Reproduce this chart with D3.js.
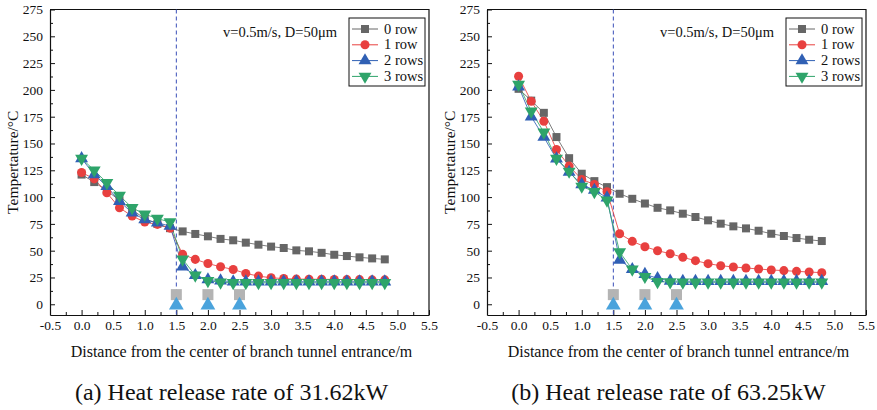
<!DOCTYPE html>
<html>
<head>
<meta charset="utf-8">
<script src="https://cdn.jsdelivr.net/npm/d3@7"></script>
<style>
  body { margin: 0; background: #fff; }
</style>
</head>
<body>
<div id="chart"></div>
<script>
// distance from branch tunnel entrance (m)
const distances = [0, 0.2, 0.4, 0.6, 0.8, 1.0, 1.2, 1.4, 1.6, 1.8, 2.0, 2.2, 2.4, 2.6, 2.8, 3.0, 3.2, 3.4, 3.6, 3.8, 4.0, 4.2, 4.4, 4.6, 4.8];
const seriesNames = ["0 row", "1 row", "2 rows", "3 rows"];

// (a) 31.62kW
const rows0A = [121, 114, 106, 97, 88, 80, 75, 71, 68, 65.6, 63.4, 61, 59.7, 57.5, 55.6, 53.8, 52.5, 50.3, 49.4, 48, 46.2, 45, 43.8, 42.8, 41.9];
const rows1A = [123, 117, 104, 90, 82.3, 76.7, 74.5, 71, 46.6, 41.9, 38, 35, 32.5, 28.8, 26.3, 24.7, 24, 23.5, 23.4, 23.3, 23.2, 23, 23, 22.8, 22.8];
const rows2A = [136, 121, 110, 96, 85.4, 79, 76, 73, 35, 27, 23, 22, 21, 21, 21, 21, 21, 21, 21, 21, 21, 21, 21, 21, 21];
const rows3A = [136, 125, 113.4, 101.5, 90, 84, 80, 76.7, 42, 27, 22, 20.5, 20, 20, 20, 20, 20, 20, 20, 20, 20, 20, 20, 20, 20];

// (b) 63.25kW
const rows0B = [201, 190, 178.6, 156, 136.3, 121.8, 114.9, 109.3, 103.1, 98.4, 94, 90, 87.6, 84.5, 81.4, 78.3, 75.2, 72.7, 70.8, 68.6, 65.8, 63.7, 61.8, 60.2, 59];
const rows1B = [212.7, 189.4, 170.8, 144.4, 128.9, 116.5, 111.8, 105, 65.8, 58.7, 53.7, 50, 47.2, 43.8, 40.7, 37.9, 36, 34.8, 33.9, 32.9, 32, 31.4, 30.7, 30.1, 29.5];
const rows2B = [203, 175, 156, 135.7, 123.3, 111.8, 106.5, 99.4, 41.3, 32.6, 28, 24.2, 21.7, 21.5, 21.5, 21.5, 21.5, 21.5, 21.5, 21.5, 21.5, 21.5, 21.5, 21.5, 21.5];
const rows3B = [205, 180, 160.5, 136, 124, 110, 105, 97, 48.8, 32.6, 25.8, 21, 20.8, 20.5, 20.5, 20.5, 20.5, 20.5, 20.5, 20.5, 20.5, 20.5, 20.5, 20.5, 20.5];

// positions of the rows (markers at the bottom)
const rowPositions = [1.5, 2.0, 2.5];
const upperMarkValue = 9;
const lowerMarkValue = 0;
const entranceX = 1.5;

const xTicks = [-0.5, 0, 0.5, 1.0, 1.5, 2.0, 2.5, 3.0, 3.5, 4.0, 4.5, 5.0, 5.5];
const yTicks = [0, 25, 50, 75, 100, 125, 150, 175, 200, 225, 250, 275];

const noteText = "v=0.5m/s, D=50μm";
const captions = ["(a) Heat release rate of 31.62kW", "(b) Heat release rate of 63.25kW"];

const colors = ["#666666", "#e8403f", "#3060b4", "#2ea46a"];
const symbols = [d3.symbolSquare, d3.symbolCircle, d3.symbolTriangle, d3.symbolTriangle];
const symbolSizes = [64, 64, 72, 72];
const symbolRotate = [0, 0, 0, 180];

const FONT = "Liberation Serif";

const W = 877, H = 410;
const svg = d3.select("#chart").append("svg")
    .attr("width", W)
    .attr("height", H);

function drawPanel(left, series, caption)
{
    let plot = {left: left, right: left + 379, top: 9.5, bottom: 315};
    let cx = (plot.left + plot.right) / 2;

    let xScale = d3.scaleLinear().domain([-0.5, 5.5]).range([plot.left, plot.right]);
    let yScale = d3.scaleLinear().domain([-10, 275]).range([plot.bottom, plot.top]);

    let g = svg.append("g");

    // minor ticks
    let xMinor = d3.range(-0.25, 5.5, 0.5);
    let yMinor = d3.range(12.5, 275, 25);

    //x axis
    g.append("g")
        .attr("transform", "translate(0," + plot.bottom + ")")
        .call(d3.axisBottom(xScale).tickValues(xTicks).tickSizeInner(-5).tickSizeOuter(0)
            .tickPadding(5).tickFormat(d => d.toFixed(1)));
    g.append("g")
        .attr("transform", "translate(0," + plot.bottom + ")")
        .call(d3.axisBottom(xScale).tickValues(xMinor).tickSizeInner(-3).tickSizeOuter(0).tickFormat(""))
        .select(".domain").remove();

    //y axis
    g.append("g")
        .attr("transform", "translate(" + plot.left + ",0)")
        .call(d3.axisLeft(yScale).tickValues(yTicks).tickSizeInner(-5).tickSizeOuter(0).tickPadding(7));
    g.append("g")
        .attr("transform", "translate(" + plot.left + ",0)")
        .call(d3.axisLeft(yScale).tickValues(yMinor).tickSizeInner(-3).tickSizeOuter(0).tickFormat(""))
        .select(".domain").remove();

    g.selectAll(".tick text").attr("font-size", 13.5).attr("fill", "#111").attr("font-family", FONT);
    g.selectAll(".domain").attr("stroke", "#111").attr("stroke-width", 1.2);
    g.selectAll(".tick line").attr("stroke", "#111");

    // frame top/right
    g.append("path")
        .attr("d", "M" + plot.left + "," + plot.top + "H" + plot.right + "V" + plot.bottom)
        .attr("fill", "none")
        .attr("stroke", "#111")
        .attr("stroke-width", 1.2);

    // branch entrance line
    g.append("line")
        .attr("x1", xScale(entranceX)).attr("x2", xScale(entranceX))
        .attr("y1", plot.top).attr("y2", plot.bottom)
        .attr("stroke", "#3a4fb8")
        .attr("stroke-width", 1)
        .attr("stroke-dasharray", "4,3");

    // row markers
    g.selectAll(".rowSq").data(rowPositions).enter().append("rect")
        .attr("x", d => xScale(d) - 5.5)
        .attr("y", yScale(upperMarkValue) - 5.5)
        .attr("width", 11).attr("height", 11)
        .attr("fill", "#b4b4b4");
    g.selectAll(".rowTri").data(rowPositions).enter().append("path")
        .attr("d", d3.symbol().type(d3.symbolTriangle).size(95))
        .attr("transform", d => "translate(" + xScale(d) + "," + (yScale(lowerMarkValue) + 1) + ")")
        .attr("fill", "#4aa3dc");

    let line = d3.line()
        .x((d, i) => xScale(distances[i]))
        .y(d => yScale(d));

    series.forEach(function (values, k) {
        g.append("path")
            .datum(values)
            .attr("d", line)
            .attr("fill", "none")
            .attr("stroke", colors[k])
            .attr("stroke-width", 1)
            .attr("opacity", 0.85);
    });

    series.forEach(function (values, k) {
        g.selectAll(".pt" + k).data(values).enter().append("path")
            .attr("d", d3.symbol().type(symbols[k]).size(symbolSizes[k]))
            .attr("transform", (d, i) => "translate(" + xScale(distances[i]) + "," + yScale(d) + ") rotate(" + symbolRotate[k] + ")")
            .attr("fill", colors[k]);
    });

    // note text
    g.append("text")
        .attr("x", plot.left + 173)
        .attr("y", 37)
        .attr("font-family", FONT)
        .attr("font-size", 14.5)
        .attr("fill", "#111")
        .text(noteText);

    // legend
    let lg = g.append("g").attr("transform", "translate(" + (plot.right - 80) + ",18)");
    lg.append("rect")
        .attr("width", 76).attr("height", 68)
        .attr("fill", "#fff")
        .attr("stroke", "#111")
        .attr("stroke-width", 1);
    seriesNames.forEach(function (name, k) {
        let yy = 11 + k * 15.8;
        lg.append("line")
            .attr("x1", 3).attr("x2", 29)
            .attr("y1", yy).attr("y2", yy)
            .attr("stroke", colors[k]).attr("stroke-width", 1);
        lg.append("path")
            .attr("d", d3.symbol().type(symbols[k]).size(symbolSizes[k]))
            .attr("transform", "translate(16," + yy + ") rotate(" + symbolRotate[k] + ")")
            .attr("fill", colors[k]);
        lg.append("text")
            .attr("x", 35).attr("y", yy + 4.5)
            .attr("font-family", FONT)
            .attr("font-size", 14.5)
            .attr("fill", "#111")
            .text(name);
    });

    // axis titles
    g.append("text")
        .attr("transform", "translate(" + (plot.left - 32) + "," + ((plot.top + plot.bottom) / 2) + ") rotate(-90)")
        .attr("text-anchor", "middle")
        .attr("font-family", FONT)
        .attr("font-size", 15.5)
        .attr("fill", "#111")
        .text("Tempertature/°C");

    g.append("text")
        .attr("x", cx + 2)
        .attr("y", 357)
        .attr("text-anchor", "middle")
        .attr("font-family", FONT)
        .attr("font-size", 16)
        .attr("fill", "#111")
        .text("Distance from the center of branch tunnel entrance/m");

    g.append("text")
        .attr("x", cx - 8)
        .attr("y", 400)
        .attr("text-anchor", "middle")
        .attr("font-family", FONT)
        .attr("font-size", 24)
        .attr("fill", "#111")
        .text(caption);
}

drawPanel(50, [rows0A, rows1A, rows2A, rows3A], captions[0]);
drawPanel(487, [rows0B, rows1B, rows2B, rows3B], captions[1]);
</script>
</body>
</html>
